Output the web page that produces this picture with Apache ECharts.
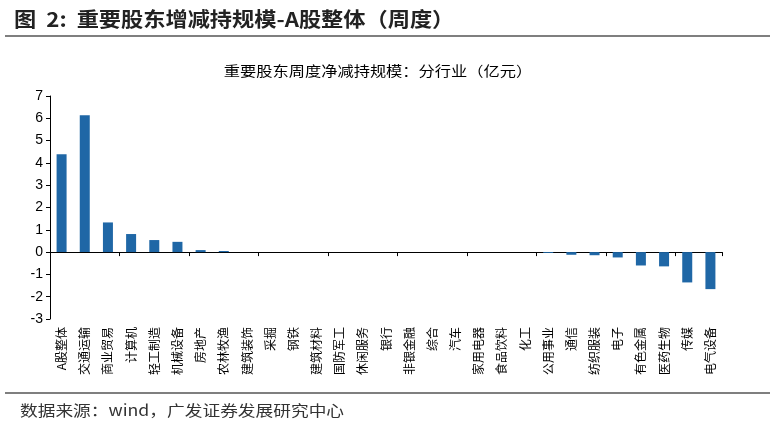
<!DOCTYPE html>
<html>
<head>
<meta charset="utf-8">
<script src="https://cdn.jsdelivr.net/npm/echarts@6/dist/echarts.min.js"></script>
<style>html,body{margin:0;padding:0;background:#fff;}#c{width:776px;height:424px;}</style>
</head>
<body>
<div id="c"></div>
<script>
const categories = ['A股整体','交通运输','商业贸易','计算机','轻工制造','机械设备','房地产','农林牧渔','建筑装饰','采掘','钢铁','建筑材料','国防军工','休闲服务','银行','非银金融','综合','汽车','家用电器','食品饮料','化工','公用事业','通信','纺织服装','电子','有色金属','医药生物','传媒','电气设备'];
const values = [4.39,6.14,1.33,0.81,0.54,0.46,0.09,0.05,0,0,0,0,0,0,0,0,0,0,0,0,0,-0.04,-0.12,-0.14,-0.24,-0.6,-0.64,-1.36,-1.66];
const yTicks = {min:-3, max:7, interval:1};

const chart = echarts.init(document.getElementById('c'), null, {renderer:'canvas'});
const cjk = '"Noto Sans CJK SC", sans-serif';
chart.setOption({
  animation:false,
  backgroundColor:'#fff',
  graphic:[
    {type:'text', x:14, y:19, scaleX:1.11, style:{text:'图  2:  重要股东增减持规模-A股整体（周度）',
      font:'bold 20px "Noto Sans CJK SC", sans-serif', fill:'#222', textVerticalAlign:'middle', textAlign:'left'}},
    {type:'text', x:378, y:71, scaleX:1.16, style:{text:'重要股东周度净减持规模：分行业（亿元）',
      font:'14px "Noto Sans CJK SC", sans-serif', fill:'#000', textVerticalAlign:'middle', textAlign:'center'}},
    {type:'text', x:20, y:410, scaleX:1.18, style:{text:'数据来源：wind，广发证券发展研究中心',
      font:'15px "Noto Sans CJK SC", sans-serif', fill:'#333', textVerticalAlign:'middle', textAlign:'left'}},
    {type:'line', shape:{x1:5,y1:36,x2:770,y2:36}, style:{stroke:'#000', lineWidth:1.2}},
    {type:'line', shape:{x1:5,y1:393,x2:770,y2:393}, style:{stroke:'#000', lineWidth:1.2}}
  ],
  grid:{left:50, right:54, top:96, bottom:105, containLabel:false},
  xAxis:[
    {type:'category', data:categories,
     axisLine:{show:true, onZero:true, lineStyle:{color:'#000', width:1}},
     axisTick:{show:true, length:4, inside:false, lineStyle:{color:'#000'}},
     axisLabel:{show:false}, splitLine:{show:false}},
    {type:'category', data:categories, position:'bottom',
     axisLine:{show:false, onZero:false}, axisTick:{show:false},
     axisLabel:{show:true, rotate:90, fontSize:12, margin:8, color:'#000', fontFamily:cjk, interval:0},
     splitLine:{show:false}}
  ],
  yAxis:{type:'value', min:yTicks.min, max:yTicks.max, interval:yTicks.interval,
     axisLine:{show:true, lineStyle:{color:'#000', width:1}},
     axisTick:{show:true, length:4, inside:false, lineStyle:{color:'#000'}},
     axisLabel:{fontSize:14, color:'#000', fontFamily:'"Liberation Sans", Arial, sans-serif', margin:7},
     splitLine:{show:false}},
  series:[{type:'bar', xAxisIndex:0, data:values, barWidth:10,
     itemStyle:{color:'#1F67A6'}}]
});
</script>
</body>
</html>
